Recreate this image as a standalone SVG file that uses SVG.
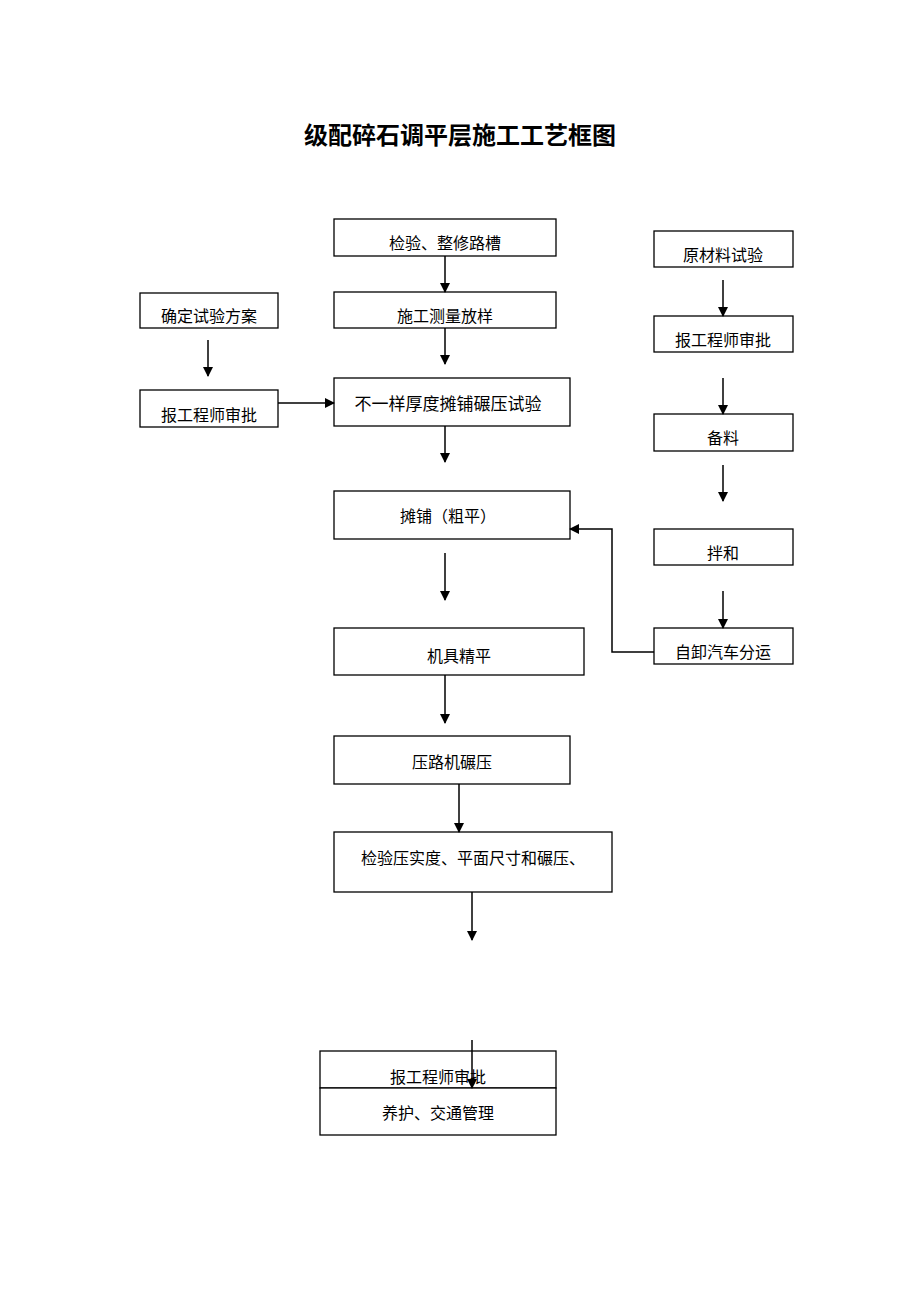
<svg xmlns="http://www.w3.org/2000/svg" width="920" height="1302" viewBox="0 0 920 1302">
<defs>
<marker id="a" markerWidth="10" markerHeight="10" refX="9" refY="5" orient="auto" markerUnits="userSpaceOnUse"><path d="M0,0 L10,5 L0,10 z" fill="#000"/></marker>
<style>
rect{fill:#fff;stroke:#000;stroke-width:1.3}
text{font-family:"Liberation Serif","Noto Sans CJK SC",serif;font-size:16px;text-anchor:middle;fill:#000}
.b{font-size:17px}
line,polyline{stroke:#000;stroke-width:1.5;fill:none}
</style>
</defs>
<rect x="0" y="0" width="920" height="1302" style="stroke:none"/>
<text x="460" y="144" style="font-size:24px;font-weight:bold">级配碎石调平层施工工艺框图</text>
<g id="n1"><rect x="334" y="219" width="222" height="37"/><text x="445" y="249">检验、整修路槽</text></g>
<g id="n2"><rect x="334" y="292" width="222" height="36"/><text x="445" y="322">施工测量放样</text></g>
<g id="n3"><rect x="334" y="378" width="236" height="48"/><text x="448" y="410" class="b">不一样厚度摊铺碾压试验</text></g>
<g id="l1"><rect x="140" y="293" width="138" height="35"/><text x="209" y="322">确定试验方案</text></g>
<g id="l2"><rect x="140" y="390" width="138" height="37"/><text x="209" y="421">报工程师审批</text></g>
<g id="n4"><rect x="334" y="491" width="236" height="48"/><text x="448" y="522">摊铺（粗平）</text></g>
<g id="n5"><rect x="334" y="628" width="250" height="47"/><text x="459" y="662">机具精平</text></g>
<g id="n6"><rect x="334" y="736" width="236" height="48"/><text x="452" y="768">压路机碾压</text></g>
<g id="n7"><rect x="334" y="832" width="278" height="60"/><text x="473" y="864">检验压实度、平面尺寸和碾压、</text></g>
<g id="n8"><rect x="320" y="1051" width="236" height="37"/><text x="438" y="1083">报工程师审批</text></g>
<g id="n9"><rect x="320" y="1088" width="236" height="47"/><text x="438" y="1119">养护、交通管理</text></g>
<g id="r1"><rect x="654" y="231" width="139" height="36"/><text x="723" y="261">原材料试验</text></g>
<g id="r2"><rect x="654" y="316" width="139" height="36"/><text x="723" y="346">报工程师审批</text></g>
<g id="r3"><rect x="654" y="414" width="139" height="37"/><text x="723" y="444">备料</text></g>
<g id="r4"><rect x="654" y="529" width="139" height="36"/><text x="723" y="559">拌和</text></g>
<g id="r5"><rect x="654" y="628" width="139" height="36"/><text x="723" y="658">自卸汽车分运</text></g>
<g id="connectors">
<line x1="445" y1="256" x2="445" y2="292" marker-end="url(#a)"/>
<line x1="445" y1="328" x2="445" y2="364" marker-end="url(#a)"/>
<line x1="208" y1="340" x2="208" y2="376" marker-end="url(#a)"/>
<line x1="278" y1="403" x2="334" y2="403" marker-end="url(#a)"/>
<line x1="445" y1="426" x2="445" y2="462" marker-end="url(#a)"/>
<line x1="445" y1="553" x2="445" y2="600" marker-end="url(#a)"/>
<line x1="445" y1="675" x2="445" y2="723" marker-end="url(#a)"/>
<line x1="459" y1="784" x2="459" y2="832" marker-end="url(#a)"/>
<line x1="472" y1="892" x2="472" y2="940" marker-end="url(#a)"/>
<line x1="472" y1="1040" x2="472" y2="1088" marker-end="url(#a)"/>
<line x1="723" y1="280" x2="723" y2="316" marker-end="url(#a)"/>
<line x1="723" y1="378" x2="723" y2="414" marker-end="url(#a)"/>
<line x1="723" y1="465" x2="723" y2="501" marker-end="url(#a)"/>
<line x1="723" y1="591" x2="723" y2="628" marker-end="url(#a)"/>
<polyline points="654,652 612,652 612,529 570,529" marker-end="url(#a)"/>
</g>
</svg>
